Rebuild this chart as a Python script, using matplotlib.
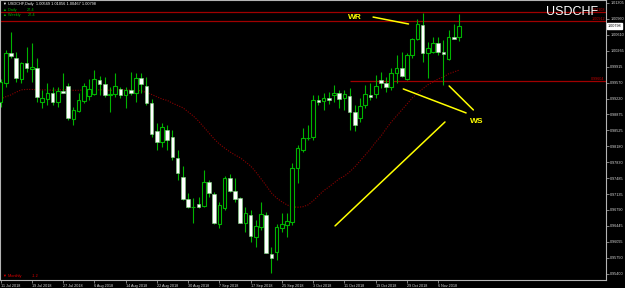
import numpy as np
import matplotlib
matplotlib.use('Agg')
import matplotlib.pyplot as plt
import matplotlib.transforms as mtransforms

plt.rcParams['font.family'] = ['Liberation Sans', 'DejaVu Sans']

# 日线 OHLC, 2018-07-11 ~ 2018-11-12
opens = [0.9915, 0.9956, 1.0021, 1.0011, 0.9965, 1.0000, 0.9987, 0.9989, 0.9915, 0.9921,
         0.9934, 0.9915, 0.9939, 0.9950, 0.9878, 0.9895, 0.9917, 0.9928, 0.9932, 0.9963,
         0.9954, 0.9930, 0.9932, 0.9943, 0.9930, 0.9941, 0.9934, 0.9967, 0.9950, 0.9912,
         0.9851, 0.9827, 0.9854, 0.9838, 0.9793, 0.9751, 0.9703, 0.9685, 0.9692, 0.9688,
         0.9740, 0.9714, 0.9649, 0.9684, 0.9749, 0.9721, 0.9705, 0.9651, 0.9668, 0.9620,
         0.9642, 0.9668, 0.9583, 0.9588, 0.9640, 0.9646, 0.9653, 0.9771, 0.9810, 0.9835,
         0.9838, 0.9919, 0.9917, 0.9923, 0.9930, 0.9934, 0.9924, 0.9928, 0.9893, 0.9880,
         0.9908, 0.9930, 0.9932, 0.9963, 0.9956, 0.9947, 0.9978, 0.9989, 0.9965, 1.0017,
         1.0052, 1.0082, 1.0021, 1.0024, 1.0043, 1.0024, 1.0008, 1.0056, 1.00569]
highs = [0.9965, 1.0028, 1.0067, 1.0024, 1.0002, 1.0035, 1.0043, 1.0011, 0.9941, 0.9956,
         0.9947, 0.9947, 0.9978, 0.9956, 0.9904, 0.9934, 0.9956, 0.9965, 0.9984, 0.9971,
         0.9969, 0.9947, 0.9978, 0.9947, 0.9947, 0.9980, 0.9978, 0.9978, 0.9969, 0.9921,
         0.9869, 0.9869, 0.9865, 0.9854, 0.9810, 0.9775, 0.9716, 0.9705, 0.9708, 0.9766,
         0.9745, 0.9718, 0.9697, 0.9753, 0.9758, 0.9749, 0.9708, 0.9686, 0.9679, 0.9657,
         0.9697, 0.9675, 0.9599, 0.9649, 0.9673, 0.9673, 0.9782, 0.9821, 0.9858, 0.9865,
         0.9930, 0.9930, 0.9934, 0.9936, 0.9952, 0.9941, 0.9941, 0.9945, 0.9908, 0.9923,
         0.9952, 0.9956, 0.9973, 0.9980, 0.9969, 0.9989, 1.0017, 1.0024, 1.0021, 1.0054,
         1.0096, 1.0109, 1.0045, 1.0056, 1.0056, 1.0050, 1.0072, 1.0085, 1.01056]
lows = [0.9904, 0.9947, 1.0011, 0.9958, 0.9956, 0.9980, 0.9958, 0.9915, 0.9902, 0.9908,
        0.9908, 0.9904, 0.9934, 0.9875, 0.9865, 0.9893, 0.9912, 0.9919, 0.9930, 0.9930,
        0.9926, 0.9893, 0.9926, 0.9923, 0.9902, 0.9930, 0.9915, 0.9934, 0.9908, 0.9838,
        0.9810, 0.9817, 0.9810, 0.9788, 0.9745, 0.9701, 0.9684, 0.9651, 0.9684, 0.9686,
        0.9708, 0.9649, 0.9640, 0.9679, 0.9718, 0.9697, 0.9651, 0.9631, 0.9609, 0.9599,
        0.9636, 0.9585, 0.9542, 0.9570, 0.9631, 0.9620, 0.9646, 0.9738, 0.9806, 0.9832,
        0.9832, 0.9908, 0.9897, 0.9910, 0.9915, 0.9902, 0.9897, 0.9854, 0.9852, 0.9871,
        0.9902, 0.9919, 0.9923, 0.9945, 0.9936, 0.9941, 0.9956, 0.9969, 0.9963, 1.0011,
        1.0050, 1.0002, 0.9967, 1.0021, 1.0017, 0.9952, 1.0006, 1.0052, 1.00467]
closes = [0.9958, 1.0021, 1.0015, 0.9967, 1.0000, 0.9989, 0.9991, 0.9926, 0.9923, 0.9934,
          0.9915, 0.9939, 0.9934, 0.9880, 0.9897, 0.9919, 0.9950, 0.9943, 0.9965, 0.9954,
          0.9930, 0.9932, 0.9950, 0.9930, 0.9941, 0.9934, 0.9967, 0.9954, 0.9912, 0.9845,
          0.9827, 0.9860, 0.9832, 0.9795, 0.9760, 0.9703, 0.9686, 0.9686, 0.9686, 0.9740,
          0.9716, 0.9651, 0.9690, 0.9749, 0.9721, 0.9703, 0.9651, 0.9673, 0.9623, 0.9644,
          0.9670, 0.9585, 0.9575, 0.9642, 0.9649, 0.9655, 0.9771, 0.9814, 0.9836, 0.9836,
          0.9919, 0.9915, 0.9923, 0.9919, 0.9934, 0.9921, 0.9932, 0.9893, 0.9864, 0.9906,
          0.9932, 0.9925, 0.9950, 0.9956, 0.9947, 0.9978, 0.9989, 0.9971, 1.0017, 1.0052,
          1.0085, 1.0021, 1.0032, 1.0043, 1.0024, 1.0019, 1.0056, 1.0052, 1.00798]

# 红色虚线均线
ma = [0.9921, 0.9926, 0.9930, 0.9936, 0.9941, 0.9942, 0.9942, 0.9941, 0.9941, 0.9941,
      0.9940, 0.9941, 0.9941, 0.9941, 0.9940, 0.9940, 0.9941, 0.9941, 0.9941, 0.9941,
      0.9941, 0.9940, 0.9941, 0.9941, 0.9941, 0.9941, 0.9940, 0.9939, 0.9935, 0.9931,
      0.9926, 0.9921, 0.9918, 0.9912, 0.9907, 0.9902, 0.9893, 0.9884, 0.9873, 0.9860,
      0.9847, 0.9834, 0.9823, 0.9814, 0.9806, 0.9799, 0.9793, 0.9784, 0.9775, 0.9762,
      0.9747, 0.9732, 0.9716, 0.9705, 0.9697, 0.9690, 0.9686, 0.9685, 0.9686, 0.9690,
      0.9699, 0.9710, 0.9721, 0.9729, 0.9738, 0.9747, 0.9753, 0.9762, 0.9773, 0.9786,
      0.9799, 0.9812, 0.9827, 0.9840, 0.9856, 0.9871, 0.9884, 0.9897, 0.9910, 0.9923,
      0.9934, 0.9943, 0.9952, 0.9958, 0.9965, 0.9969, 0.9976, 0.9980, 0.9984]

date_labels = ['11 Jul 2018', '19 Jul 2018', '27 Jul 2018', '6 Aug 2018', '14 Aug 2018',
               '22 Aug 2018', '30 Aug 2018', '7 Sep 2018', '17 Sep 2018', '25 Sep 2018',
               '3 Oct 2018', '11 Oct 2018', '19 Oct 2018', '29 Oct 2018', '6 Nov 2018']
price_ticks = [1.01305, 1.00960, 1.00610, 1.00265, 0.99915, 0.99570, 0.99220, 0.98875,
               0.98525, 0.98180, 0.97830, 0.97485, 0.97135, 0.96790, 0.96445, 0.96095,
               0.95750, 0.95400]
red_levels = [1.01108, 1.00912, 0.99604]

GREEN = '#00b400'
GRID = '#b4b4b4'
RED = '#a00000'

o = np.array(opens); h = np.array(highs); l = np.array(lows); c = np.array(closes)
x = np.arange(len(o))

fig = plt.figure(figsize=(6.25, 2.88), dpi=100, facecolor='black')
ax = fig.add_axes([0, 8 / 288, 606 / 625, 280 / 288], facecolor='black')

# 水平线
ax.axhline(red_levels[0], color=RED, lw=0.9, zorder=1)
ax.axhline(red_levels[1], color=RED, lw=0.9, zorder=1)
ax.hlines(red_levels[2], 67, 120, color=RED, lw=0.9, zorder=1)

# 均线
ax.plot(x, ma, color='#8b0000', lw=0.8, ls=(0, (1, 1.3)), zorder=1.5)

# K线
ax.vlines(x, l, h, color=GREEN, lw=0.8, zorder=2)
bull = c >= o
lo = np.minimum(o, c)
hh = np.maximum(np.abs(c - o), 0.00006)
ax.bar(x[bull], hh[bull], bottom=lo[bull], width=0.7, color='black',
       edgecolor=GREEN, lw=0.8, zorder=3)
ax.bar(x[~bull], hh[~bull], bottom=lo[~bull], width=0.7, color='white',
       edgecolor='#7fd87f', lw=0.4, zorder=3)

ax.set_xlim(-0.096, 116.2)
ax.set_ylim(0.95263, 1.01370)

for s in ax.spines.values():
    s.set_color(GRID)
    s.set_linewidth(0.8)

ax.yaxis.tick_right()
ax.set_yticks(price_ticks)
ax.set_yticklabels([f'{p:.5f}' for p in price_ticks])
ax.tick_params(axis='y', colors=GRID, labelcolor='#d8d8d8', labelsize=2.7,
               length=2, width=0.5, pad=1)
ax.set_xticks(x[::6][:len(date_labels)])
ax.set_xticklabels(date_labels)
ax.tick_params(axis='x', colors=GRID, labelcolor='#d8d8d8', labelsize=2.7,
               length=2, width=0.5, pad=1.2)
for t in ax.get_xticklabels():
    t.set_ha('left')

trans = mtransforms.blended_transform_factory(ax.transAxes, ax.transData)
# 当前价
ax.text(1.003, c[-1], f'{c[-1]:.5f}', transform=trans, ha='left', va='center',
        fontsize=2.7, color='black', clip_on=False,
        bbox=dict(boxstyle='square,pad=0.25', fc='white', ec='white'))
# 红线价格
for lv in red_levels:
    ax.text(0.998, lv, f'{lv:.5f}', transform=trans, ha='right', va='bottom',
            fontsize=2.7, color='#c00000')

# 黄色标注线
yl = dict(color='yellow', lw=1.1, zorder=4, solid_capstyle='round')
ax.plot([71.5, 78.3], [1.00998, 1.00847], **yl)
ax.plot([77.3, 89.35], [0.99430, 0.98907], **yl)
ax.plot([86.1, 90.75], [0.99495, 0.98972], **yl)
ax.plot([64.2, 85.3], [0.96443, 0.98710], **yl)
ax.text(68.0, 1.00999, 'WR', color='yellow', fontsize=6, fontweight='bold',
        ha='center', va='center')
ax.text(91.4, 0.98710, 'WS', color='yellow', fontsize=6, fontweight='bold',
        ha='center', va='center')

# 左上角信息
def ftext(px, py, s, **kw):
    fig.text(px / 625, 1 - py / 288, s, va='center', ha='left', **kw)

ftext(3, 4, '\u25bc USDCHF,Daily  1.00569 1.01056 1.00467 1.00798', color='white', fontsize=2.8)
ftext(3, 10, '\u25b2 Daily', color=GREEN, fontsize=2.8)
ftext(27, 10, '27.4', color=GREEN, fontsize=2.8)
ftext(3, 15, '\u25b2 Weekly', color=GREEN, fontsize=2.8)
ftext(28, 15, '27.4', color=GREEN, fontsize=2.8)
ftext(3, 276, '\u25bc Monthly', color='#e00000', fontsize=2.8)
ftext(32, 276, '-1.2', color='#e00000', fontsize=2.8)

fig.text(598 / 625, 1 - 12 / 288, 'USDCHF', color='white', fontsize=9,
         ha='right', va='center')

fig.savefig('out.png', dpi=100, facecolor='black')
